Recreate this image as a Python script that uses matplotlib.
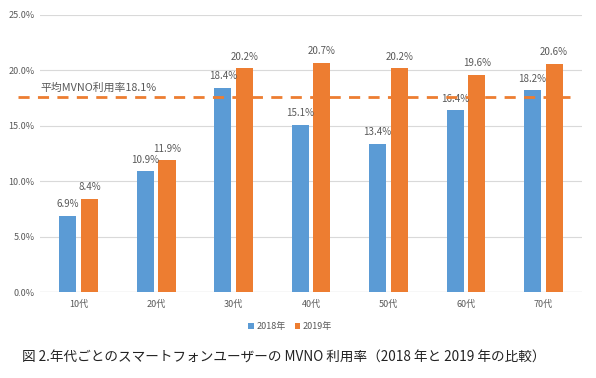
import matplotlib
matplotlib.use("Agg")
import matplotlib.pyplot as plt
import numpy as np

plt.rcParams['font.family'] = ['Noto Sans CJK JP', 'DejaVu Sans']

categories = ["10代", "20代", "30代", "40代", "50代", "60代", "70代"]
v2018 = [6.9, 10.9, 18.4, 15.1, 13.4, 16.4, 18.2]
v2019 = [8.4, 11.9, 20.2, 20.7, 20.2, 19.6, 20.6]
series_names = ["2018年", "2019年"]
avg_line = 17.6
avg_label = "平均MVNO利用率18.1%"
yticks = [0, 5, 10, 15, 20, 25]
caption = "図 2.年代ごとのスマートフォンユーザーの MVNO 利用率（2018 年と 2019 年の比較）"

blue = "#5B9BD5"
orange = "#ED7D31"
gray = "#595959"

fig = plt.figure(figsize=(5.96, 3.78), dpi=100)
ax = fig.add_axes([40/596, 1-292/378, 542/596, 277/378])

x = np.arange(len(categories))
w = 0.22
off = 0.14
b1 = ax.bar(x - off, v2018, w, color=blue, label=series_names[0], zorder=3)
b2 = ax.bar(x + off, v2019, w, color=orange, label=series_names[1], zorder=3)
for bars, vals in ((b1, v2018), (b2, v2019)):
    for b, v in zip(bars, vals):
        ax.text(b.get_x() + b.get_width()/2, v + 0.6, f"{v:.1f}%", ha='center', va='bottom',
                fontsize=7, color=gray, zorder=4)

ax.set_xlim(-0.5, len(categories) - 0.5)
ax.set_ylim(0, 25)
ax.set_yticks(yticks)
ax.set_yticklabels([f"{t:.1f}%" for t in yticks], fontsize=6.5, color=gray)
ax.set_xticks(x)
ax.set_xticklabels(categories, fontsize=6.5, color=gray)
ax.tick_params(axis='y', length=0, pad=4)
ax.tick_params(axis='x', length=0, pad=6)
ax.yaxis.grid(True, color="#D9D9D9", linewidth=0.8, zorder=0)
for s in ax.spines.values():
    s.set_visible(False)
ax.axhline(0, color="#D9D9D9", linewidth=0.9, zorder=2)

# average line extends beyond plot on the left
ax.plot([-0.78, 6.35], [avg_line, avg_line], color=orange, linestyle=(0, (4, 3)), linewidth=2,
        clip_on=False, zorder=5)
ax.text(-0.5, avg_line + 0.35, avg_label, fontsize=7.8, color=gray, ha='left', va='bottom', zorder=6)

leg = fig.legend(handles=[b1, b2], loc='center', bbox_to_anchor=(290/596, 1-327/378), ncol=2,
                 frameon=False, fontsize=6.5, handlelength=0.6, handleheight=0.6,
                 handletextpad=0.3, columnspacing=1.0)
for t in leg.get_texts():
    t.set_color(gray)

fig.text(22/596, 1-358/378, caption, fontsize=9.8, color="#222222", ha='left', va='center')

fig.savefig("out.png", dpi=100)
